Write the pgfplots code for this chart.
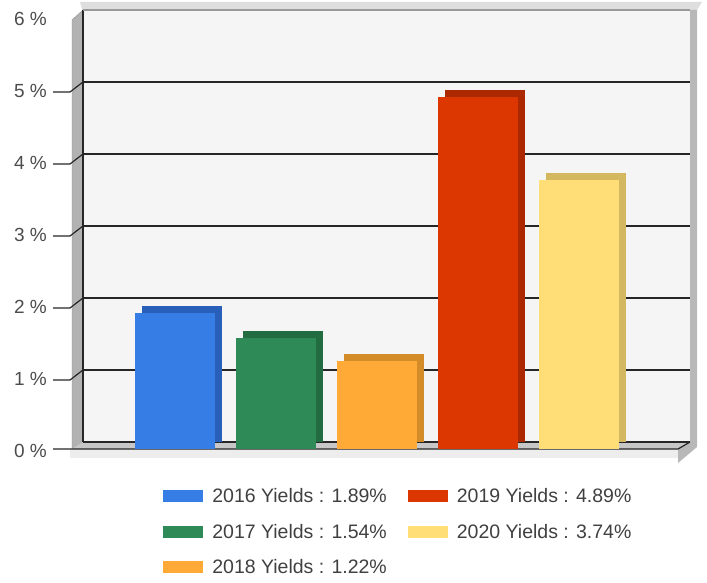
\documentclass[border=0pt]{standalone}
\usepackage{fontspec}
\setmainfont{Liberation Sans}
\usepackage{pgfplots}
\pgfplotsset{compat=1.18}

\definecolor{c16}{RGB}{55,125,230}  \definecolor{c16s}{RGB}{40,95,185}
\definecolor{c17}{RGB}{46,139,87}   \definecolor{c17s}{RGB}{35,108,65}
\definecolor{c18}{RGB}{255,170,55}  \definecolor{c18s}{RGB}{212,140,40}
\definecolor{c19}{RGB}{220,55,0}    \definecolor{c19s}{RGB}{172,40,0}
\definecolor{c20}{RGB}{255,222,120} \definecolor{c20s}{RGB}{212,184,95}

\begin{document}
\begin{tikzpicture}[x=1pt,y=1pt]
\useasboundingbox (0,0) rectangle (707,582);
% box shadows
\fill[black!13] (80,580) -- (702,580) -- (697,572) -- (83,570) -- cycle;
\fill[black!28] (690,572) -- (697,572) -- (697,135) -- (678,119) -- (678,133) -- (690,140) -- cycle;
\fill[black!7] (70,133) -- (678,133) -- (678,124) -- (70,124) -- cycle;
% back plane, floor, left wall
\fill[black!4] (83,140) rectangle (690,572);
\fill[black!22] (72,133) -- (83,140) -- (690,140) -- (678,133) -- cycle;
\fill[black!30] (72,133) -- (72,562) -- (83,572) -- (83,140) -- cycle;
\draw[black!45] (72,133) -- (72,562) -- (83,572);
\draw[black!85, line width=1.2pt] (83,140) -- (83,572);
\draw[black!85, line width=1.2pt] (53,133) -- (678,133) -- (690,140);
\foreach \v in {1,...,5}
  \draw[black!85, line width=1.2pt] (83,140+72*\v) -- (70,130+72*\v) -- (53,130+72*\v);

\begin{axis}[
  at={(83pt,140pt)}, anchor=south west,
  scale only axis, width=607pt, height=432pt,
  xmin=-0.98, xmax=5.03, ymin=0, ymax=6,
  clip=false,
  axis line style={draw=none},
  xtick=\empty,
  ytick={0,1,2,3,4,5,6},
  major tick length=0pt,
  ymajorgrids,
  grid style={black!85, line width=1.2pt},
  /pgf/number format/assume math mode=true,
  yticklabel={\pgfmathprintnumber{\tick} \%},
  yticklabel style={font=\fontsize{19}{21}\selectfont, text=black!70,
    anchor=east, inner sep=0pt, xshift=-36pt, yshift=-9pt},
  legend columns=2,
  legend image code/.code={\fill[#1, draw=none] (0pt,-6pt) rectangle (40pt,6pt);},
  legend style={at={(0.132,-0.102)}, anchor=north west, draw=none, fill=none,
    font=\fontsize{19.5}{21}\selectfont, text=black!75, inner sep=0pt,
    row sep=16pt,
    /tikz/every odd column/.append style={column sep=7pt},
    /tikz/every even column/.append style={column sep=19pt}},
]
% side faces (back) then front faces
\addplot[ybar, bar width=80pt, bar shift=0pt, draw=none, fill=c16s, forget plot] coordinates {(0,1.89)};
\addplot[ybar, bar width=80pt, bar shift=0pt, draw=none, fill=c16, forget plot, xshift=-7pt, yshift=-7pt] coordinates {(0,1.89)};
\addplot[ybar, bar width=80pt, bar shift=0pt, draw=none, fill=c17s, forget plot] coordinates {(1,1.54)};
\addplot[ybar, bar width=80pt, bar shift=0pt, draw=none, fill=c17, forget plot, xshift=-7pt, yshift=-7pt] coordinates {(1,1.54)};
\addplot[ybar, bar width=80pt, bar shift=0pt, draw=none, fill=c18s, forget plot] coordinates {(2,1.22)};
\addplot[ybar, bar width=80pt, bar shift=0pt, draw=none, fill=c18, forget plot, xshift=-7pt, yshift=-7pt] coordinates {(2,1.22)};
\addplot[ybar, bar width=80pt, bar shift=0pt, draw=none, fill=c19s, forget plot] coordinates {(3,4.89)};
\addplot[ybar, bar width=80pt, bar shift=0pt, draw=none, fill=c19, forget plot, xshift=-7pt, yshift=-7pt] coordinates {(3,4.89)};
\addplot[ybar, bar width=80pt, bar shift=0pt, draw=none, fill=c20s, forget plot] coordinates {(4,3.74)};
\addplot[ybar, bar width=80pt, bar shift=0pt, draw=none, fill=c20, forget plot, xshift=-7pt, yshift=-7pt] coordinates {(4,3.74)};

\addlegendimage{fill=c16} \addlegendentry{2016 Yields : 1.89\%}
\addlegendimage{fill=c19} \addlegendentry{2019 Yields : 4.89\%}
\addlegendimage{fill=c17} \addlegendentry{2017 Yields : 1.54\%}
\addlegendimage{fill=c20} \addlegendentry{2020 Yields : 3.74\%}
\addlegendimage{fill=c18} \addlegendentry{2018 Yields : 1.22\%}
\end{axis}
\draw[black!40, line width=2pt] (83,572) -- (690,572);
\end{tikzpicture}
\end{document}
